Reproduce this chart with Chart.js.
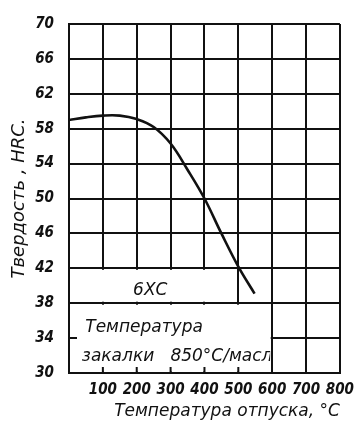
<!DOCTYPE html>
<html>
<head>
<meta charset="utf-8">
<script src="https://cdn.jsdelivr.net/npm/chart.js@4"></script>
<style>
html, body { margin: 0; padding: 0; background: #fff; }
#wrap { width: 362px; height: 428px; }
</style>
</head>
<body>
<div id="wrap"><canvas id="chart"></canvas></div>
<script>
// tempering temperature, C  /  hardness HRC (steel 6XC)
var temps = [0, 50, 100, 150, 200, 250, 300, 350, 400, 450, 500, 548];
var hardness = [59.0, 59.3, 59.5, 59.5, 59.1, 58.2, 56.3, 53.3, 50.0, 46.0, 42.2, 39.1];
var xTicks = [100, 200, 300, 400, 500, 600, 700, 800];
var yTicks = [30, 34, 38, 42, 46, 50, 54, 58, 62, 66, 70];

var steelName = '6ХС';
var noteLines = ['Температура', 'закалки   850°С/масло'];

var ink = '#111';
var font = "'DejaVu Sans Condensed', 'Liberation Sans Narrow', 'DejaVu Sans', sans-serif";
var wideFont = "'DejaVu Sans', sans-serif";

var points = [];
for (var i = 0; i < temps.length; i++) {
	points.push({x: temps[i], y: hardness[i]});
}

// white label boxes at the bottom left of the grid
var boxPlugin = {
	id: 'boxes',
	beforeDatasetsDraw: function(chart) {
		var ctx = chart.ctx;
		var xs = chart.scales.x, ys = chart.scales.y;
		var px = function(v) { return xs.getPixelForValue(v); };
		var py = function(v) { return ys.getPixelForValue(v); };
		var inset = 1.5;
		ctx.save();
		ctx.fillStyle = '#fff';
		ctx.fillRect(px(0) + inset, py(42) + inset, px(500) - px(0) - 2 * inset, py(38) - py(42) - 2 * inset);
		ctx.fillRect(px(0) + inset, py(38) + inset, px(600) - px(0) - 2 * inset, py(30) - py(38) - 2 * inset);

		ctx.strokeStyle = ink;
		ctx.lineWidth = 2;
		ctx.beginPath();
		for (var t = 100; t <= 500; t += 100) {
			ctx.moveTo(px(t), py(30));
			ctx.lineTo(px(t), py(30) - 6);
		}
		ctx.moveTo(px(0), py(34));
		ctx.lineTo(px(0) + 8, py(34));
		ctx.stroke();

		ctx.fillStyle = ink;
		ctx.font = 'italic 17px ' + wideFont;
		ctx.textBaseline = 'middle';
		ctx.textAlign = 'center';
		ctx.fillText(steelName, px(240), py(39.5));
		ctx.textAlign = 'left';
		ctx.save();
		ctx.beginPath();
		ctx.rect(px(0), py(38), px(600) - px(0) - 2, py(30) - py(38));
		ctx.clip();
		ctx.fillText(noteLines[0], px(48), py(35.2));
		ctx.fillText(noteLines[1], px(38), py(31.9));
		ctx.restore();
		ctx.restore();
	}
};

var ctx = document.getElementById('chart').getContext('2d');

var chart = new Chart(ctx, {
	type: 'line',
	data: {
		datasets: [{
			data: points,
			borderColor: ink,
			borderWidth: 2.6,
			pointRadius: 0,
			fill: false,
			tension: 0.4
		}]
	},
	options: {
		responsive: true,
		maintainAspectRatio: false,
		animation: false,
		layout: { padding: { top: 17, right: 22, left: 0, bottom: 0 } },
		plugins: {
			legend: { display: false },
			tooltip: { enabled: false }
		},
		scales: {
			x: {
				type: 'linear',
				min: 0,
				max: 800,
				afterBuildTicks: function(scale) {
					scale.ticks = [0].concat(xTicks).map(function(v) { return {value: v}; });
				},
				afterFit: function(scale) { scale.height = 55; },
				grid: { color: ink, lineWidth: 2, drawTicks: false },
				border: { color: ink, width: 2 },
				ticks: {
					color: ink,
					padding: 8,
					maxRotation: 0,
					autoSkip: false,
					font: { family: font, size: 15, style: 'italic', weight: 'bold' },
					callback: function(v) { return v === 0 ? '' : v; }
				},
				title: {
					display: true,
					text: 'Температура отпуска, °С',
					align: 'end',
					color: ink,
					padding: { top: 0, bottom: 6 },
					font: { family: wideFont, size: 17, style: 'italic' }
				}
			},
			y: {
				min: 30,
				max: 70,
				afterBuildTicks: function(scale) {
					scale.ticks = yTicks.map(function(v) { return {value: v}; });
				},
				afterFit: function(scale) { scale.width = 69; },
				grid: { color: ink, lineWidth: 2, drawTicks: false },
				border: { color: ink, width: 2 },
				ticks: {
					color: ink,
					padding: 15,
					autoSkip: false,
					font: { family: font, size: 15, style: 'italic', weight: 'bold' }
				},
				title: {
					display: true,
					text: 'Твердость , HRC.',
					color: ink,
					padding: { top: 9, bottom: 0 },
					font: { family: wideFont, size: 18, style: 'italic' }
				}
			}
		}
	},
	plugins: [boxPlugin]
});
</script>
</body>
</html>
